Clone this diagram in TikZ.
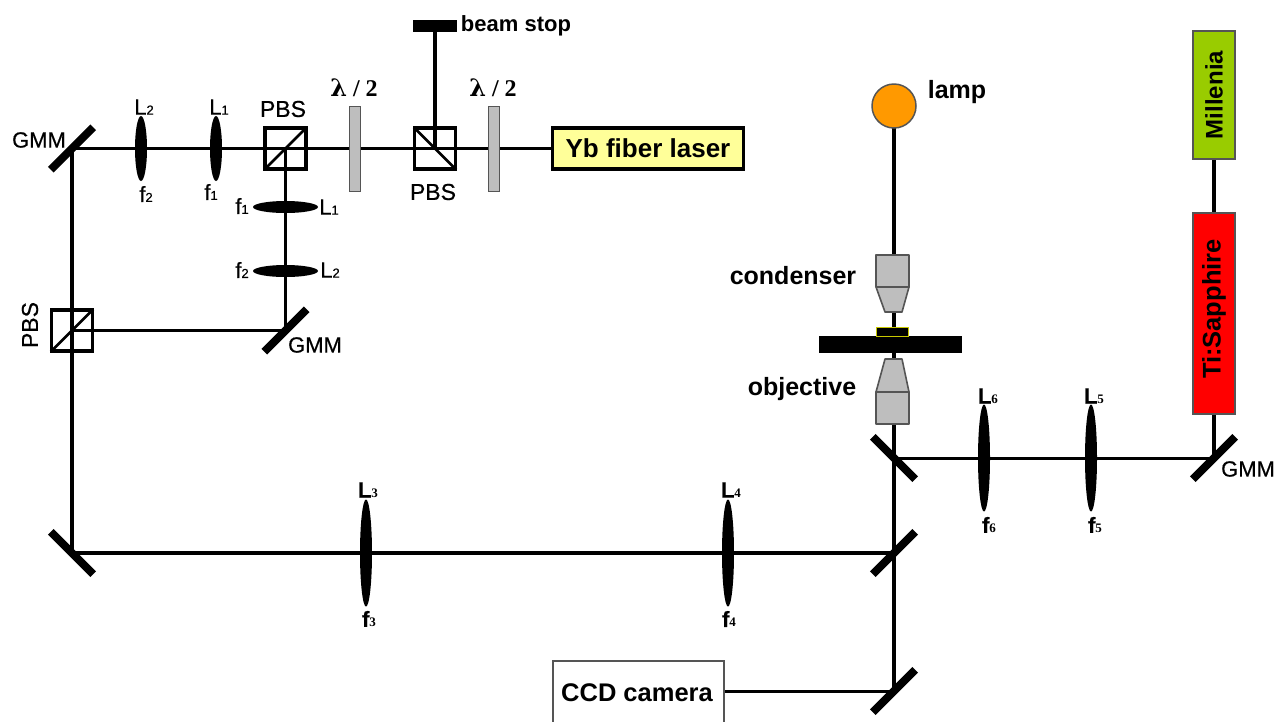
\documentclass[tikz,border=0pt]{standalone}
\usepackage{fontspec}
\setmainfont{Liberation Sans}
\newfontfamily\semi[FakeBold=0.5]{Liberation Sans}
\newfontfamily\serifbold[BoldFont={Liberation Serif Bold}]{Liberation Serif}
\newfontfamily\greekbold{DejaVu Serif}
\usetikzlibrary{shapes.geometric,backgrounds}
\newcommand{\fs}[1]{\fontsize{#1}{#1}\selectfont}
\newcommand{\lbl}[2]{#1{\fs{13}#2}}
\newcommand{\lblb}[2]{\textbf{#1}{\fs{13}\serifbold\bfseries #2}}
\definecolor{plate}{HTML}{BEBEBE}
\definecolor{yblaser}{HTML}{FFFF99}
\definecolor{lampc}{HTML}{FF9900}
\definecolor{mill}{HTML}{99CC00}
\definecolor{tisa}{HTML}{FF0000}
\definecolor{samp}{HTML}{C8C800}
\definecolor{edge}{HTML}{555555}
\tikzset{
  x=1pt,y=-1pt,
  beam/.style={line width=3.6pt,black},
  thinbeam/.style={line width=3pt,black},
  mirror/.style={rectangle,fill=black,inner sep=0pt,minimum width=60pt,minimum height=8pt},
  vlens/.style={ellipse,fill=black,inner sep=0pt,minimum width=12pt,minimum height=107pt},
  slens/.style={ellipse,fill=black,inner sep=0pt,minimum width=12pt,minimum height=65pt},
  hlens/.style={ellipse,fill=black,inner sep=0pt,minimum width=65pt,minimum height=12pt},
  cube/.style={rectangle,draw=black,line width=3.6pt,inner sep=0pt,minimum size=41pt},
  cubediag/.style={line width=2.6pt,black,shorten <=1.5pt,shorten >=1.5pt},
  platebox/.style={rectangle,draw=edge,line width=1pt,fill=plate,inner sep=0pt,minimum width=11pt,minimum height=85pt},
  box/.style={rectangle,draw=black,line width=3.6pt,inner sep=0pt},
  lab/.style={inner sep=0pt,font=\fs{22}\semi},
  blab/.style={inner sep=0pt,font=\fs{25}\bfseries},
  wave/.style={inner sep=0pt,font=\fs{24}\serifbold\bfseries},
  objpart/.style={draw=edge,line width=1.6pt,fill=plate,line join=round},
}
\begin{document}
\begin{tikzpicture}
\clip (0,0) rectangle (1276,721);
% left optical train
\node[mirror,rotate=45] (gmmA) at (72,148.5) {};
\node[slens] (lensTwo) at (141,148.5) {};
\node[slens] (lensOne) at (216,148.5) {};
\node[cube] (pbsA) at (285.5,148.5) {};
\draw[cubediag] (pbsA.south west) -- (pbsA.north east);
\node[platebox] (plateA) at (355,148.5) {};
\node[cube] (pbsB) at (435,148.5) {};
\draw[cubediag] (pbsB.north west) -- (pbsB.south east);
\node[platebox] (plateB) at (493.5,148.5) {};
\node[rectangle,fill=black,inner sep=0pt,minimum width=44pt,minimum height=12pt] (stop) at (435,26) {};
\node[box,fill=yblaser,minimum width=191pt,minimum height=41pt,font=\fs{26}\bfseries] (yb) at (648,148.5) {Yb fiber laser};
\node[hlens] (lensOneB) at (285.5,207) {};
\node[hlens] (lensTwoB) at (285.5,271) {};
\node[mirror,rotate=45] (gmmB) at (285.5,330.5) {};
\node[cube] (pbsC) at (72,330.5) {};
\draw[cubediag] (pbsC.south west) -- (pbsC.north east);
% long arm
\node[mirror,rotate=-45] (mirC) at (72,553) {};
\node[vlens] (lensThree) at (366,553) {};
\node[vlens] (lensFour) at (728,553) {};
\node[mirror,rotate=45] (mirD) at (894,553) {};
\node[mirror,rotate=45] (mirE) at (894,691) {};
\node[box,draw=edge,line width=2pt,fill=white,minimum width=171pt,minimum height=80pt,anchor=north west] (ccd) at (552,660) {};
\node[inner sep=0pt,font=\fs{25.5}\bfseries] (ccdtext) at (637,693) {CCD camera};
% microscope
\node[circle,draw=edge,line width=1.5pt,fill=lampc,inner sep=0pt,minimum size=44pt] (lampn) at (894,106) {};
\draw[objpart] (876,255) rectangle (909,287);
\draw[objpart] (876,287) -- (909,287) -- (902,312) -- (885,312) -- cycle;
\node[rectangle,fill=black,inner sep=0pt,minimum width=143pt,minimum height=17pt] (stage) at (890.5,344.5) {};
\node[rectangle,draw=samp,line width=1.2pt,fill=black,inner sep=0pt,minimum width=32pt,minimum height=8.5pt] (sample) at (892.5,332) {};
\draw[objpart] (885,359) -- (902,359) -- (909,392) -- (876,392) -- cycle;
\draw[objpart] (876,392) rectangle (909,424);
\node[mirror,rotate=-45] (mirF) at (894,458) {};
% right arm
\node[vlens] (lensSix) at (984,458) {};
\node[vlens] (lensFive) at (1091,458) {};
\node[mirror,rotate=45] (gmmC) at (1214,458) {};
\node[box,draw=edge,line width=1.5pt,fill=tisa,minimum width=42pt,minimum height=201pt] (tisan) at (1214,313.5) {};
\node[rotate=90,inner sep=0pt,font=\fs{25.5}\bfseries] (tisatext) at (1214,309) {Ti:Sapphire};
\node[box,draw=edge,line width=1.5pt,fill=mill,minimum width=42pt,minimum height=128pt] (milln) at (1214,95) {};
\node[rotate=90,inner sep=0pt,font=\fs{24}\bfseries] (milltext) at (1214,95) {Millenia};
% beams behind the components
\begin{scope}[on background layer]
\fill[white] (0,0) rectangle (1276,721);
\draw[beam] (yb.center) -- (gmmA.center) -- (mirC.center) -- (mirD.center);
\draw[beam] (pbsB.center) -- (stop.center);
\draw[beam] (pbsA.center) -- (gmmB.center);
\draw[thinbeam] (gmmB.center) -- (pbsC.center);
\draw[beam] (lampn.center) -- (mirE.center);
\draw[thinbeam] (mirE.center) -- (mirE.center -| ccd.east);
\draw[thinbeam] (mirF.center) -- (gmmC.center);
\draw[beam] (gmmC.center) -- (tisan.center) -- (milln.center);
\end{scope}
% labels
\node[lab] (tL2a) at (144,107) {\lbl{L}{2}};
\node[lab] (tL1a) at (219,107) {\lbl{L}{1}};
\node[lab] (tf2a) at (146,194) {\lbl{f}{2}};
\node[lab] (tf1a) at (211,192) {\lbl{f}{1}};
\node[lab] (tf1b) at (242,206) {\lbl{f}{1}};
\node[lab] (tL1b) at (329,207) {\lbl{L}{1}};
\node[lab] (tf2b) at (242,270) {\lbl{f}{2}};
\node[lab] (tL2b) at (330,270) {\lbl{L}{2}};
\node[lab,font=\fs{23}\semi] (tPa) at (283,109) {PBS};
\node[lab,font=\fs{23}\semi] (tPb) at (433,192) {PBS};
\node[lab,font=\fs{23}\semi,rotate=90] (tPc) at (30,325) {PBS};
\node[lab] (tGa) at (39,140) {GMM};
\node[lab] (tGb) at (315,345) {GMM};
\node[lab] (tGc) at (1248,469) {GMM};
\node[wave] (tWa) at (354,88) {\greekbold\bfseries λ\serifbold\bfseries{} / 2};
\node[wave] (tWb) at (493,88) {\greekbold\bfseries λ\serifbold\bfseries{} / 2};
\node[inner sep=0pt,font=\fs{22}\bfseries] (tStop) at (516,26) {beam stop};
\node[blab] (tLamp) at (957,92) {lamp};
\node[blab] (tCond) at (793,276) {condenser};
\node[blab] (tObj) at (802,389) {objective};
\node[lab] (tL6) at (988,396) {\lblb{L}{6}};
\node[lab] (tf6) at (989,525) {\lblb{f}{6}};
\node[lab] (tL5) at (1094,396) {\lblb{L}{5}};
\node[lab] (tf5) at (1095,525) {\lblb{f}{5}};
\node[lab] (tL3) at (368,490) {\lblb{L}{3}};
\node[lab] (tf3) at (369,619) {\lblb{f}{3}};
\node[lab] (tL4) at (731,490) {\lblb{L}{4}};
\node[lab] (tf4) at (729,619) {\lblb{f}{4}};
\end{tikzpicture}
\end{document}
